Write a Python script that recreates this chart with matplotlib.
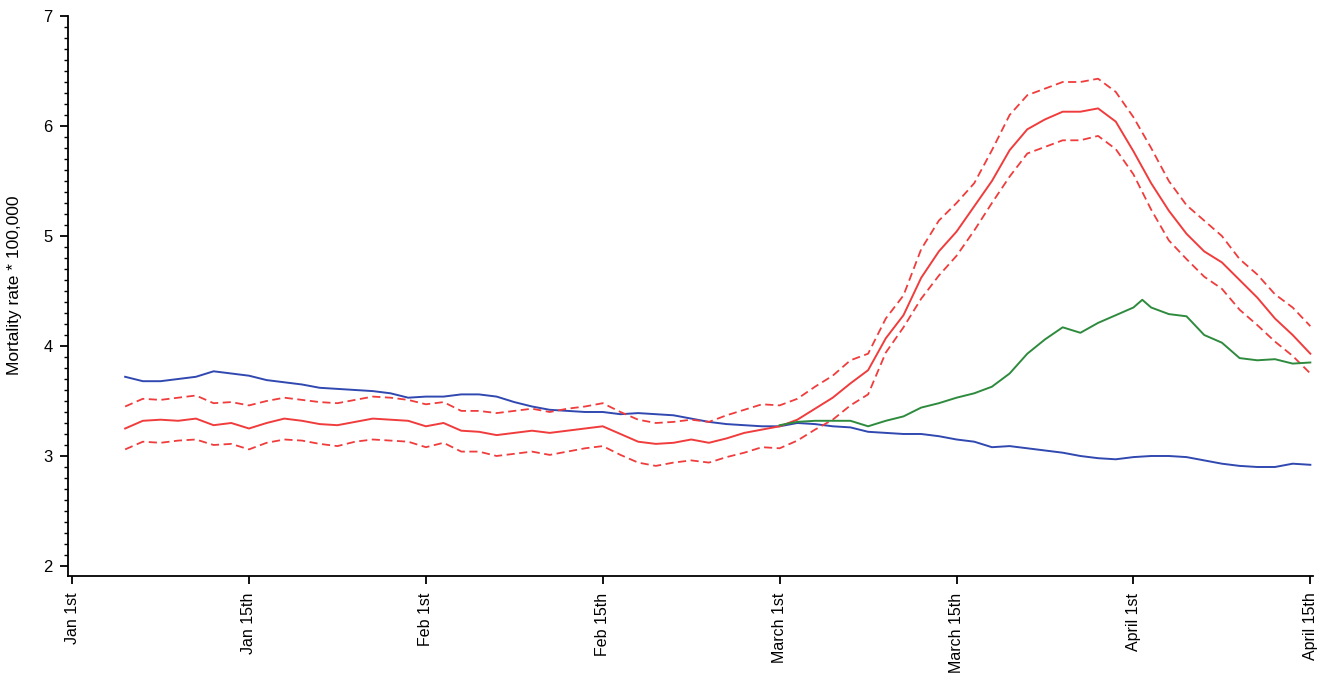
import numpy as np
import matplotlib
matplotlib.use("Agg")
from matplotlib import pyplot as plt
from matplotlib.ticker import MultipleLocator

plt.rcParams['font.family'] = ['Liberation Sans', 'DejaVu Sans']

# x positions are in tick units: 0 = Jan 1st ... 7 = April 15th
tick_labels = ['Jan 1st', 'Jan 15th', 'Feb 1st', 'Feb 15th',
               'March 1st', 'March 15th', 'April 1st', 'April 15th']
pos = np.round(np.arange(0.3, 7.001, 0.1), 2)

reference = [3.72, 3.68, 3.68, 3.70, 3.72, 3.77, 3.75, 3.73, 3.69, 3.67,
             3.65, 3.62, 3.61, 3.60, 3.59, 3.57, 3.53, 3.54, 3.54, 3.56,
             3.56, 3.54, 3.49, 3.45, 3.42, 3.41, 3.40, 3.40, 3.38, 3.39,
             3.38, 3.37, 3.34, 3.31, 3.29, 3.28, 3.27, 3.27, 3.30, 3.29,
             3.27, 3.26, 3.22, 3.21, 3.20, 3.20, 3.18, 3.15, 3.13, 3.08,
             3.09, 3.07, 3.05, 3.03, 3.00, 2.98, 2.97, 2.99, 3.00, 3.00,
             2.99, 2.96, 2.93, 2.91, 2.90, 2.90, 2.93, 2.92]

rate = [3.25, 3.32, 3.33, 3.32, 3.34, 3.28, 3.30, 3.25, 3.30, 3.34,
        3.32, 3.29, 3.28, 3.31, 3.34, 3.33, 3.32, 3.27, 3.30, 3.23,
        3.22, 3.19, 3.21, 3.23, 3.21, 3.23, 3.25, 3.27, 3.20, 3.13,
        3.11, 3.12, 3.15, 3.12, 3.16, 3.21, 3.24, 3.27, 3.33, 3.43,
        3.53, 3.66, 3.78, 4.07, 4.28, 4.62, 4.86, 5.04, 5.27, 5.50,
        5.78, 5.97, 6.06, 6.13, 6.13, 6.16, 6.04, 5.77, 5.48, 5.23,
        5.02, 4.86, 4.76, 4.60, 4.44, 4.25, 4.10, 3.93]

rate_hi = [3.45, 3.52, 3.51, 3.53, 3.55, 3.48, 3.49, 3.46, 3.50, 3.53,
           3.51, 3.49, 3.48, 3.51, 3.54, 3.53, 3.51, 3.47, 3.49, 3.41,
           3.41, 3.39, 3.41, 3.43, 3.40, 3.43, 3.45, 3.48, 3.40, 3.33,
           3.30, 3.31, 3.33, 3.31, 3.37, 3.42, 3.47, 3.46, 3.52, 3.63,
           3.73, 3.87, 3.93, 4.25, 4.46, 4.88, 5.14, 5.30, 5.48, 5.78,
           6.10, 6.28, 6.34, 6.40, 6.40, 6.43, 6.31, 6.08, 5.80, 5.50,
           5.28, 5.14, 5.00, 4.79, 4.65, 4.47, 4.35, 4.18]

rate_lo = [3.06, 3.13, 3.12, 3.14, 3.15, 3.10, 3.11, 3.06, 3.12, 3.15,
           3.14, 3.11, 3.09, 3.13, 3.15, 3.14, 3.13, 3.08, 3.12, 3.04,
           3.04, 3.00, 3.02, 3.04, 3.01, 3.04, 3.07, 3.09, 3.01, 2.94,
           2.91, 2.94, 2.96, 2.94, 2.99, 3.03, 3.08, 3.07, 3.14, 3.24,
           3.33, 3.46, 3.56, 3.94, 4.17, 4.43, 4.64, 4.82, 5.05, 5.30,
           5.54, 5.75, 5.81, 5.87, 5.87, 5.91, 5.79, 5.56, 5.24, 4.96,
           4.79, 4.63, 4.52, 4.33, 4.19, 4.04, 3.91, 3.75]

covid_pos = [4.0, 4.1, 4.2, 4.3, 4.4, 4.5, 4.6, 4.7, 4.8, 4.9,
             5.0, 5.1, 5.2, 5.3, 5.4, 5.5, 5.6, 5.7, 5.8, 5.9,
             6.0, 6.05, 6.1, 6.2, 6.3, 6.4, 6.5, 6.6, 6.7, 6.8,
             6.9, 7.0]
covid = [3.28, 3.31, 3.32, 3.32, 3.32, 3.27, 3.32, 3.36, 3.44, 3.48,
         3.53, 3.57, 3.63, 3.75, 3.93, 4.06, 4.17, 4.12, 4.21, 4.28,
         4.35, 4.42, 4.35, 4.29, 4.27, 4.10, 4.03, 3.89, 3.87, 3.88,
         3.84, 3.85]

fig = plt.figure(figsize=(13.25, 6.76), dpi=100)
ax = fig.add_axes([68 / 1325, 1 - 576 / 676, 1245 / 1325, 560 / 676])

red = '#f03c3c'
dash = (0, (4.5, 2.5))
ax.plot(pos, reference, color='#3048b0', lw=1.4)
ax.plot(pos, rate_hi, color=red, lw=1.3, linestyle=dash)
ax.plot(pos, rate_lo, color=red, lw=1.3, linestyle=dash)
ax.plot(pos, rate, color=red, lw=1.4)
ax.plot(covid_pos, covid, color='#2e8b3e', lw=1.4)

ax.set_xlim(-0.023, 7.015)
ax.set_ylim(1.909, 7.0)
ax.spines['top'].set_visible(False)
ax.spines['right'].set_visible(False)
ax.spines['left'].set_linewidth(1.3)
ax.spines['bottom'].set_linewidth(1.3)

ax.set_xticks(range(len(tick_labels)))
ax.set_xticklabels(tick_labels, rotation=90, va='top', ha='center')
ax.yaxis.set_major_locator(MultipleLocator(1))
ax.yaxis.set_minor_locator(MultipleLocator(0.1))
ax.set_yticks([2, 3, 4, 5, 6, 7])
ax.tick_params(axis='both', which='major', length=6, width=1.3)
ax.tick_params(axis='y', which='major', labelsize=12, pad=5)
ax.tick_params(axis='x', which='major', labelsize=11.5, pad=6)
ax.tick_params(axis='y', which='minor', length=3, width=1.0)

ax.set_ylabel('Mortality rate * 100,000', fontsize=12.5)
ax.yaxis.set_label_coords(-0.037, 0.52)

fig.savefig('out.png', dpi=100)
